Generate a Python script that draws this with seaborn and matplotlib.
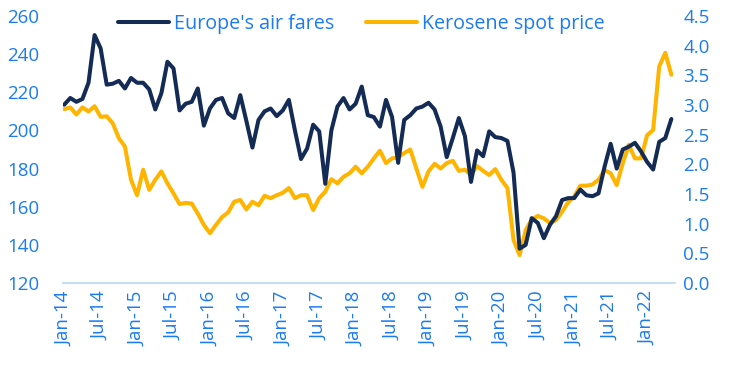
import numpy as np
import pandas as pd
import matplotlib
matplotlib.use("Agg")
import matplotlib.pyplot as plt
import seaborn as sns
from matplotlib.lines import Line2D

# ---- data (monthly, Jan-14 .. May-22) ----
air_fares = [213.5, 217, 215, 216.5, 225, 250, 243, 224, 224.5, 226, 222, 227.5,
             225, 225, 221.5, 211, 219.5, 236, 232.5, 210.5, 214, 215, 222, 202.5,
             211.5, 216, 217, 209, 206.5, 218.5, 205, 191, 205.5, 210, 211.5, 207.5,
             210.5, 216, 200, 185, 190.5, 203, 199.5, 172, 200, 212.5, 217, 211,
             214, 223, 208, 207, 202, 216, 207, 183, 205.5, 208, 211.5, 212.5,
             214.5, 211, 202, 186, 196, 206.5, 197, 173, 189.5, 186.5, 199.5, 196.5,
             196, 194.5, 178, 138, 140, 154, 151.5, 143.5, 150.5, 155, 163.5, 164.5,
             164.5, 169, 166, 165.5, 167, 181, 193, 180, 190, 191.5, 193.5, 189,
             183.5, 179.5, 194, 196, 206]
kerosene = [2.93, 2.96, 2.84, 2.96, 2.89, 2.98, 2.80, 2.81, 2.69, 2.44, 2.30, 1.74,
            1.48, 1.91, 1.57, 1.74, 1.88, 1.68, 1.51, 1.33, 1.35, 1.34, 1.17, 0.98,
            0.84, 0.98, 1.11, 1.19, 1.37, 1.40, 1.24, 1.37, 1.31, 1.47, 1.43, 1.48,
            1.52, 1.60, 1.43, 1.48, 1.48, 1.23, 1.43, 1.54, 1.75, 1.68, 1.79, 1.85,
            1.96, 1.85, 1.96, 2.10, 2.23, 2.02, 2.10, 2.12, 2.19, 2.25, 1.93, 1.62,
            1.88, 2.01, 1.93, 2.02, 2.06, 1.89, 1.91, 1.82, 1.97, 1.89, 1.82, 1.92,
            1.74, 1.60, 0.73, 0.47, 0.89, 1.07, 1.13, 1.09, 1.01, 1.06, 1.20, 1.36,
            1.46, 1.64, 1.64, 1.66, 1.74, 1.90, 1.85, 1.65, 2.02, 2.33, 2.10, 2.10,
            2.49, 2.58, 3.65, 3.88, 3.51]
months = pd.date_range("2014-01-01", periods=len(air_fares), freq="MS")
month_labels = [d.strftime("%b-%y") for d in months]
tick_labels = ["Jan-14", "Jul-14", "Jan-15", "Jul-15", "Jan-16", "Jul-16", "Jan-17",
               "Jul-17", "Jan-18", "Jul-18", "Jan-19", "Jul-19", "Jan-20", "Jul-20",
               "Jan-21", "Jul-21", "Jan-22"]
series_names = ["Europe's air fares", "Kerosene spot price"]

NAVY = "#132B55"
GOLD = "#FFB400"
BLUE = "#1A7BF2"
FS = 13.5
LFS = 14.2

sns.set_theme(style="white")
plt.rcParams["font.family"] = ["Open Sans", "DejaVu Sans"]

df = pd.DataFrame({"idx": np.arange(len(air_fares)), "air": air_fares, "ker": kerosene})

fig = plt.figure(figsize=(7.29, 3.65), dpi=100)
ax = fig.add_axes([63 / 729, 1 - 283 / 365, (675 - 63) / 729, (283 - 16) / 365])
ax2 = ax.twinx()

sns.lineplot(data=df, x="idx", y="air", ax=ax, color=NAVY, linewidth=2.9,
             solid_capstyle="round", solid_joinstyle="round")
sns.lineplot(data=df, x="idx", y="ker", ax=ax2, color=GOLD, linewidth=2.9,
             solid_capstyle="round", solid_joinstyle="round")
ax.set_zorder(ax2.get_zorder() + 1)
ax.patch.set_visible(False)

ax.set_xlim(-0.2, 100.6)
ax.set_ylim(120, 260)
ax2.set_ylim(0, 4.5)
ax.set_yticks(np.arange(120, 261, 20))
ax2.set_yticks(np.arange(0, 4.51, 0.5))
ax2.set_yticklabels([f"{v:.1f}" for v in np.arange(0, 4.51, 0.5)])

tick_pos = [month_labels.index(t) for t in tick_labels]
ax.set_xticks(tick_pos)
ax.set_xticklabels(tick_labels, rotation=90)

for a in (ax, ax2):
    a.set_xlabel("")
    a.set_ylabel("")
    for s in a.spines.values():
        s.set_visible(False)
    a.tick_params(axis="both", length=0, colors=BLUE, labelsize=FS)
    a.grid(False)
ax.spines["bottom"].set_visible(True)
ax.spines["bottom"].set_color("#C6DDF6")
ax.spines["bottom"].set_linewidth(1.5)
ax.tick_params(axis="y", pad=17)
ax.tick_params(axis="x", pad=6)
ax2.tick_params(axis="y", pad=6)

handles = [Line2D([], [], color=NAVY, lw=2.9, solid_capstyle="round"),
           Line2D([], [], color=GOLD, lw=2.9, solid_capstyle="round")]
leg = fig.legend(handles, series_names, loc="center", bbox_to_anchor=(0.496, 0.934),
                 ncol=2, frameon=False, fontsize=LFS, handlelength=2.6,
                 handletextpad=0.25, columnspacing=1.6)
for t in leg.get_texts():
    t.set_color(BLUE)

fig.savefig("out.png", dpi=100)
